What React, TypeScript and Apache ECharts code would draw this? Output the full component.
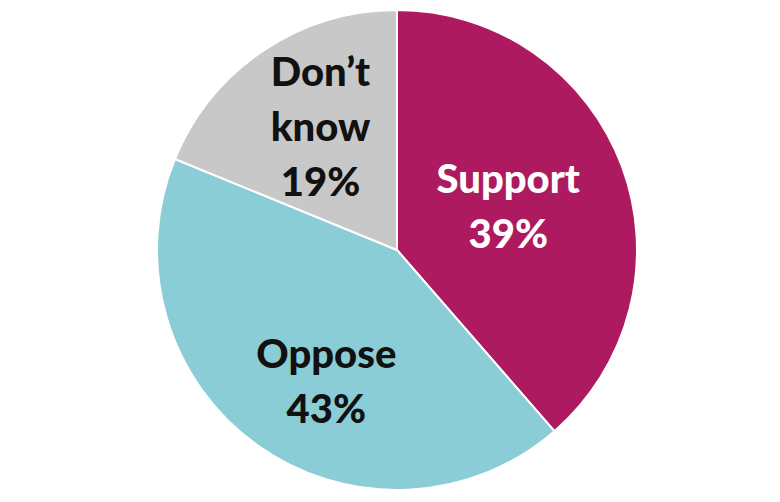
import React, { useEffect, useRef } from "react";
import * as echarts from "echarts";

const categories = ["Support", "Oppose", "Don\u2019t\nknow"];
const values = [39, 43, 19];
const colors = ["#AE1A5F", "#8BCDD6", "#C8C8C8"];
const labelColors = ["#FFFFFF", "#111111", "#111111"];

export default function App() {
  const ref = useRef<HTMLDivElement>(null);
  useEffect(() => {
    if (!ref.current) return;
    const chart = echarts.init(ref.current, undefined, { renderer: "svg" });
    const shifts = [
      { dx: -4, dy: -1 },
      { dx: 1, dy: 31 },
      { dx: -8, dy: -22 },
    ];
    chart.setOption({
      animation: false,
      backgroundColor: "#FFFFFF",
      series: [
        {
          type: "pie",
          center: [397, 250],
          radius: [0, 240],
          startAngle: 90,
          clockwise: true,
          silent: true,
          itemStyle: { borderColor: "#FFFFFF", borderWidth: 2 },
          labelLine: { show: false },
          label: {
            show: true,
            position: "inside",
            fontFamily: "Lato, 'Noto Sans', sans-serif",
            fontWeight: 900,
            fontSize: 40,
            lineHeight: 55,
            formatter: (p: any) => `${p.name}\n${p.value}%`,
          },
          labelLayout: (p: any) => shifts[p.dataIndex],
          data: categories.map((name, i) => ({
            name,
            value: values[i],
            itemStyle: { color: colors[i] },
            label: {
              color: labelColors[i],
              align: i === 2 ? "right" : "center",
            },
          })),
        },
      ],
    });
    return () => chart.dispose();
  }, []);
  return (
    <div
      ref={ref}
      style={{ position: "fixed", left: 0, top: 0, width: 780, height: 502 }}
    />
  );
}
